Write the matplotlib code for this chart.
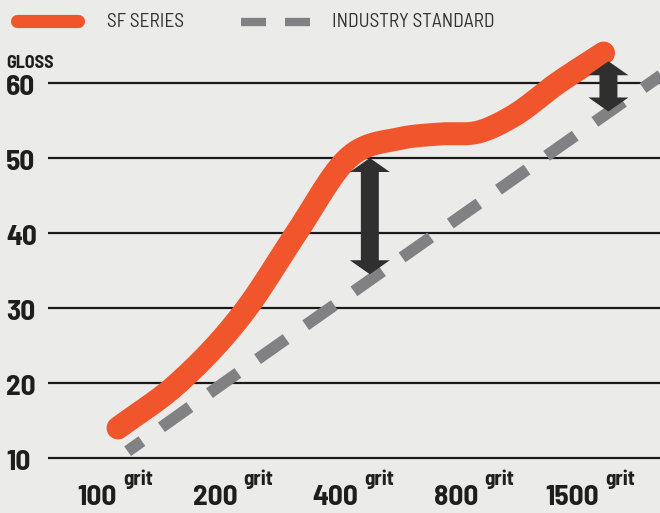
import numpy as np
import matplotlib
matplotlib.use("Agg")
import matplotlib.pyplot as plt
from matplotlib.patches import Polygon
from matplotlib.lines import Line2D

# data
grits = ["100", "200", "400", "800", "1500"]
sf_pos = [0, 0.5, 1.07, 1.48, 1.91, 2.34, 2.67, 3.0, 3.28, 3.65, 4.03]
sf_gloss = [14.0, 20.0, 30.0, 40.0, 50.0, 52.6, 53.2, 53.5, 55.6, 60.0, 64.0]
std_pos = [0.08, 1, 2, 3, 4, 5]
std_gloss = [10.9, 21.4, 32.7, 44.0, 55.3, 66.6]
y_ticks = [10, 20, 30, 40, 50, 60]
gap_arrows = [(2.09, 50.0, 34.5), (4.07, 62.9, 56.2)]  # (x, top, bottom)

ORANGE = "#F0552B"
GREY = "#818184"
DARK = "#2f2f2f"
TXT = "#1e1e1e"
BG = "#ebebea"
FONT = ["Barlow Semi Condensed", "DejaVu Sans"]


def smooth(xs, ys, n=40):
    # cubic hermite through the points
    xs, ys = np.asarray(xs, float), np.asarray(ys, float)
    m = np.gradient(ys, xs)
    out_x, out_y = [], []
    for k in range(len(xs) - 1):
        h = xs[k + 1] - xs[k]
        t = np.linspace(0, 1, n)
        h00 = 2 * t**3 - 3 * t**2 + 1
        h10 = t**3 - 2 * t**2 + t
        h01 = -2 * t**3 + 3 * t**2
        h11 = t**3 - t**2
        out_x.append(xs[k] + t * h)
        out_y.append(h00 * ys[k] + h10 * h * m[k] + h01 * ys[k + 1] + h11 * h * m[k + 1])
    return np.concatenate(out_x), np.concatenate(out_y)


fig = plt.figure(figsize=(6.6, 5.13), dpi=100)
fig.patch.set_facecolor(BG)
ax = fig.add_axes([0, 0, 1, 1])
ax.set_facecolor(BG)
ax.set_axis_off()

# x index 0 -> 118px, 120.5px per step ; y=10 -> 458px, 7.5px per unit
XS, YS = 120.5, 7.5
ax.set_xlim(-118 / XS, (660 - 118) / XS)
ax.set_ylim(10 - 55 / YS, 10 + 458 / YS)

x_left = (48 - 118) / XS
ax.hlines(y_ticks, x_left, 10, color="#1a1a1a", lw=1.6, zorder=1)

lab_x = (6 - 118) / XS
for v in y_ticks:
    ax.text(lab_x, v - 1.6, str(v), ha="left", va="baseline", fontsize=21,
            fontweight="bold", family=FONT, color=TXT)
ax.text(lab_x, 62.0, "GLOSS", ha="left", va="baseline", fontsize=13,
        fontweight="bold", family=FONT, color=TXT)

for i, g in enumerate(grits):
    ax.text(i - 0.01, 3.75, g, ha="right", va="baseline", fontsize=21,
            fontweight="bold", family=FONT, color=TXT)
    ax.text(i + 0.04, 6.4, "grit", ha="left", va="baseline", fontsize=15,
            fontweight="bold", family=FONT, color=TXT)

# industry standard
ax.plot(std_pos, std_gloss, color=GREY, lw=8.5, ls=(1.48, (2.96, 2.03)),
        solid_capstyle="butt", dash_capstyle="butt", zorder=2)

# SF series
cx, cy = smooth(sf_pos, sf_gloss)
ax.plot(cx, cy, color=ORANGE, lw=16.5, solid_capstyle="round", zorder=3)

# double arrows showing the gap
sw, hw, hl = 18 / XS, 40 / XS, 14 / YS
for x, top, bot in gap_arrows:
    pts = [(x, top), (x + hw / 2, top - hl), (x + sw / 2, top - hl),
           (x + sw / 2, bot + hl), (x + hw / 2, bot + hl), (x, bot),
           (x - hw / 2, bot + hl), (x - sw / 2, bot + hl),
           (x - sw / 2, top - hl), (x - hw / 2, top - hl)]
    ax.add_patch(Polygon(pts, closed=True, color=DARK, lw=0, zorder=4))

# legend
tr = ax.transAxes
W, H = 660, 513
ax.add_line(Line2D([17 / W, 78 / W], [1 - 21 / H] * 2, transform=tr,
                   color=ORANGE, lw=9.5, solid_capstyle="round"))
ax.text(107 / W, 1 - 27 / H, "SF SERIES", transform=tr, ha="left",
        va="baseline", fontsize=14, family=FONT, color="#333333")
for x0, x1 in [(241, 266), (285, 310)]:
    ax.add_line(Line2D([x0 / W, x1 / W], [1 - 22 / H] * 2, transform=tr,
                       color=GREY, lw=6, solid_capstyle="butt"))
ax.text(332 / W, 1 - 27 / H, "INDUSTRY STANDARD", transform=tr, ha="left",
        va="baseline", fontsize=14, family=FONT, color="#333333")

fig.savefig("out.png", dpi=100, facecolor=BG)
